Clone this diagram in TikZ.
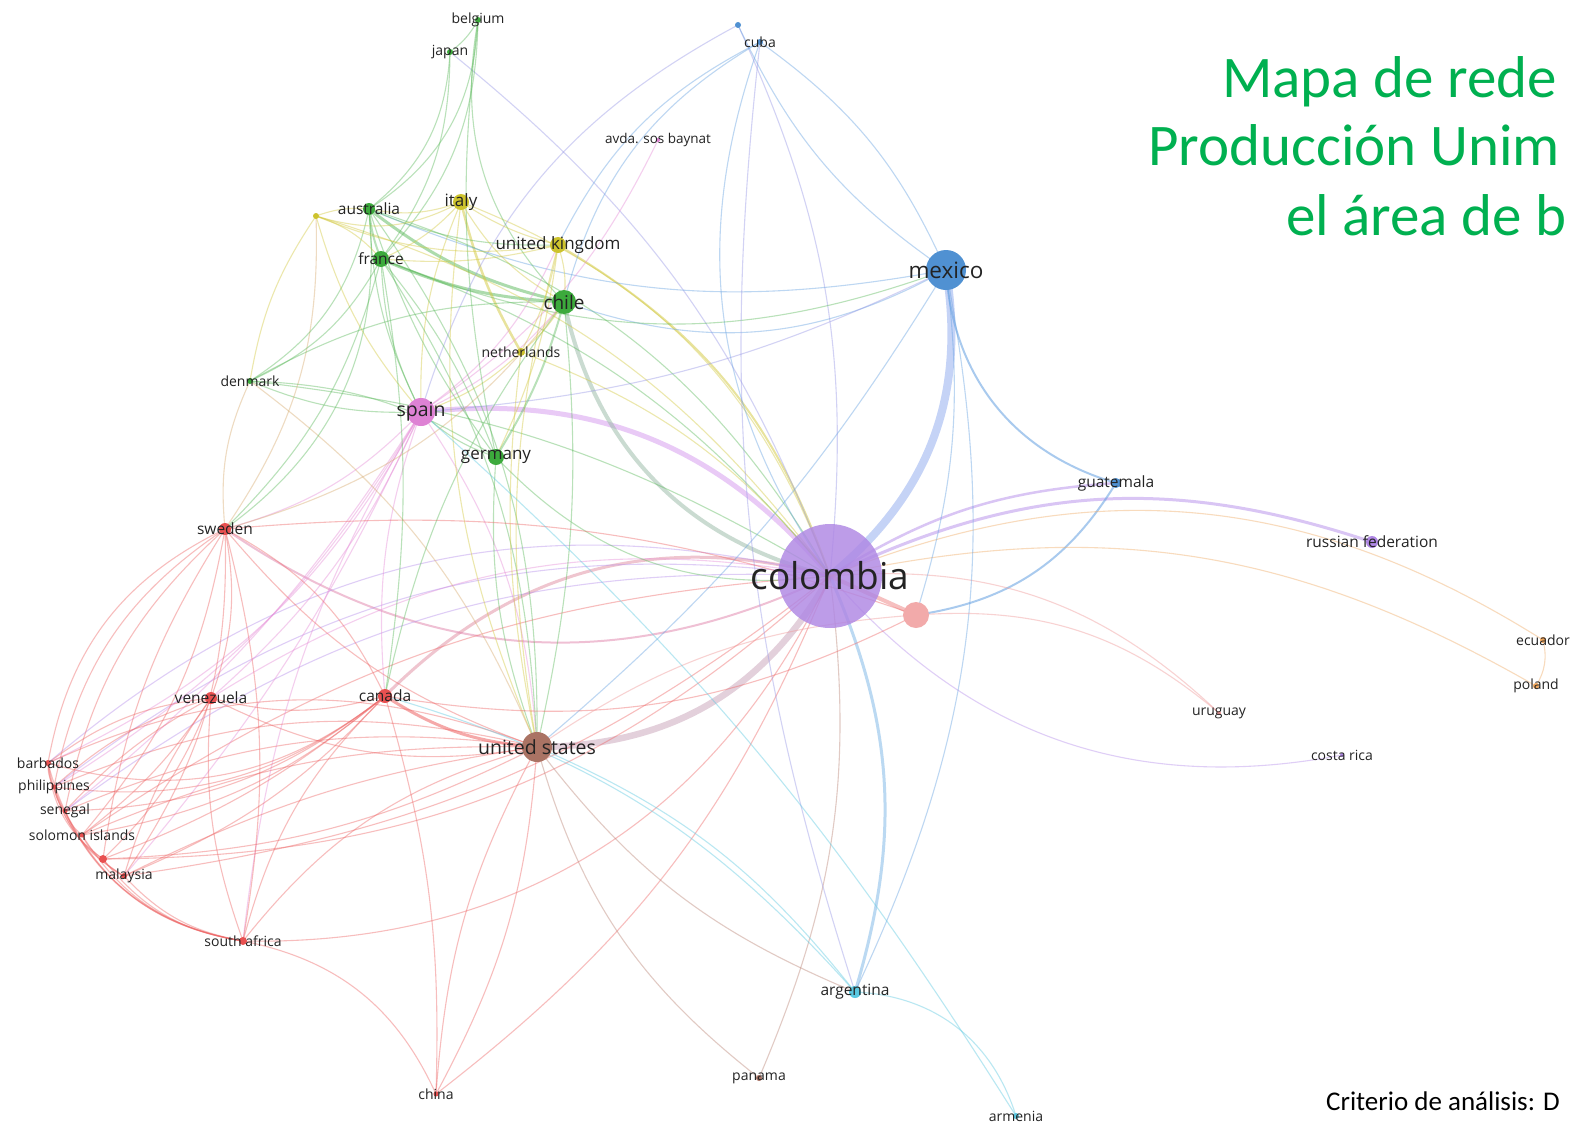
\documentclass[tikz,border=0pt]{standalone}
\usepackage{fontspec}
\setmainfont{Open Sans}
\newfontfamily\carlito{Carlito}
\pgfdeclarelayer{bg}
\pgfdeclarelayer{edges}
\pgfsetlayers{bg,edges,main}
\definecolor{cRed}{RGB}{232,80,80}
\definecolor{cGreen}{RGB}{60,170,60}
\definecolor{cBlue}{RGB}{80,145,210}
\definecolor{cYellow}{RGB}{205,195,45}
\definecolor{cPurple}{RGB}{175,135,228}
\definecolor{cCyan}{RGB}{90,200,225}
\definecolor{cOrange}{RGB}{240,165,90}
\definecolor{cBrown}{RGB}{170,115,100}
\definecolor{cPink}{RGB}{222,130,212}
\definecolor{cSalmon}{RGB}{240,155,155}
\definecolor{eRed}{RGB}{238,100,100}
\definecolor{eGreen}{RGB}{90,185,90}
\definecolor{eBlue}{RGB}{100,160,225}
\definecolor{eYellow}{RGB}{210,200,60}
\definecolor{ePurple}{RGB}{180,140,235}
\definecolor{eLav}{RGB}{150,150,230}
\definecolor{ePink}{RGB}{230,140,215}
\definecolor{eBrown}{RGB}{185,130,115}
\definecolor{eTan}{RGB}{215,170,110}
\definecolor{eCyan}{RGB}{90,200,225}
\definecolor{eOrange}{RGB}{240,170,100}
\definecolor{eSalmon}{RGB}{240,150,150}
\definecolor{titlegreen}{RGB}{0,176,80}
\definecolor{lbl}{RGB}{35,35,35}
\tikzset{
  ed/.style={opacity=0.42, line cap=round},
  nd/.style={circle, inner sep=0pt, draw=none},
  lb/.style={inner sep=0pt, text=lbl, font=\fontsize{14}{16}\selectfont},
}
\begin{document}
\begin{tikzpicture}[x=1pt,y=-1pt]
\begin{pgfonlayer}{bg}
\fill[white] (0,0) rectangle (1570,1124);
\end{pgfonlayer}
\useasboundingbox (0,0) rectangle (1570,1124);

% ---------------- nodes (circles)
\node[nd, fill=cSalmon!85, minimum size=26] (SA) at (916,615) {};
\node[nd, fill=cBlue, minimum size=40] (MX) at (946,270) {};
\node[nd, fill=cGreen, minimum size=24] (CL) at (564,302) {};
\node[nd, fill=cPink, minimum size=28] (ES) at (421,412) {};
\node[nd, fill=cBrown, minimum size=30] (US) at (537,747) {};
\node[nd, fill=cRed, minimum size=14] (CA) at (385,696) {};
\node[nd, fill=cRed, minimum size=12] (VE) at (211,698) {};
\node[nd, fill=cRed, minimum size=12] (SE) at (225,529) {};
\node[nd, fill=cGreen, minimum size=16] (DE) at (496,457) {};
\node[nd, fill=cGreen, minimum size=16] (FR) at (381,259) {};
\node[nd, fill=cGreen, minimum size=12] (AU) at (369,209) {};
\node[nd, fill=cYellow, minimum size=16] (IT) at (461,202) {};
\node[nd, fill=cYellow, minimum size=16] (UK) at (558,245) {};
\node[nd, fill=cYellow, minimum size=8] (NL) at (521,352) {};
\node[nd, fill=cGreen, minimum size=6] (DK) at (250,381) {};
\node[nd, fill=cGreen, minimum size=6] (JP) at (450,52) {};
\node[nd, fill=cGreen, minimum size=6] (BE) at (478,20) {};
\node[nd, fill=cYellow, minimum size=6] (YU) at (316,216) {};
\node[nd, fill=cBlue, minimum size=6] (CU) at (760,42) {};
\node[nd, fill=cBlue, minimum size=6] (BU) at (738,25) {};
\node[nd, fill=cPink, minimum size=4] (AV) at (658,140) {};
\node[nd, fill=cBlue, minimum size=10] (GT) at (1116,483) {};
\node[nd, fill=cPurple, minimum size=12] (RU) at (1372,542) {};
\node[nd, fill=cOrange, minimum size=6] (EC) at (1543,640) {};
\node[nd, fill=cOrange, minimum size=6] (PL) at (1536,686) {};
\node[nd, fill=cSalmon, minimum size=4] (UY) at (1219,713) {};
\node[nd, fill=cPurple, minimum size=4] (CR) at (1342,755) {};
\node[nd, fill=cCyan, minimum size=12] (AR) at (855,992) {};
\node[nd, fill=cCyan, minimum size=6] (AM) at (1016,1116) {};
\node[nd, fill=cBrown, minimum size=6] (PA) at (759,1078) {};
\node[nd, fill=cRed, minimum size=5] (CN) at (436,1094) {};
\node[nd, fill=cRed, minimum size=8] (ZA) at (243,941) {};
\node[nd, fill=cRed, minimum size=6] (MY) at (124,876) {};
\node[nd, fill=cRed, minimum size=8] (RD) at (103,859) {};
\node[nd, fill=cRed, minimum size=5] (SI) at (82,835) {};
\node[nd, fill=cRed, minimum size=5] (SN) at (65,811) {};
\node[nd, fill=cRed, minimum size=5] (PH) at (54,787) {};
\node[nd, fill=cRed, minimum size=6] (BB) at (48,763) {};
\node[nd, fill=cPurple, fill opacity=0.82, minimum size=104] (CO) at (830,576) {};

% ---------------- edges
\begin{pgfonlayer}{edges}
% thick edges
\draw[ed, opacity=.55, line width=8, draw={rgb,255:red,150;green,175;blue,240}] (CO.center) to[bend right=30] (MX.center);
\draw[ed, opacity=.55, line width=5, draw={rgb,255:red,215;green,160;blue,240}] (CO.center) to[bend right=28] (ES.center);
\draw[ed, opacity=.55, line width=6.5, draw={rgb,255:red,205;green,170;blue,190}] (CO.center) to[bend left=30] (US.center);
\draw[ed, opacity=.5, line width=4, draw={rgb,255:red,150;green,185;blue,165}] (CO.center) to[bend left=32] (CL.center);
\draw[ed, opacity=.5, line width=2.5, draw=ePurple] (CO.center) to[bend left=14] (GT.center);
\draw[ed, opacity=.5, line width=3, draw=ePurple] (CO.center) to[bend left=22] (RU.center);
\draw[ed, opacity=.5, line width=3, draw={rgb,255:red,120;green,180;blue,230}] (CO.center) to[bend left=20] (AR.center);
\draw[ed, opacity=.6, line width=4, draw=eSalmon] (CO.center) to (SA.center);
\draw[ed, opacity=.5, line width=3, draw={rgb,255:red,225;green,140;blue,160}] (CA.center) to[bend left=30] (CO.center);
\draw[ed, opacity=.55, line width=3, draw=eRed] (CA.center) to[bend right=14] (US.center);
\draw[ed, opacity=.55, line width=2, draw=eBlue] (MX.center) to[bend right=35] (GT.center);
\draw[ed, opacity=.55, line width=2, draw=eBlue] (GT.center) to[bend left=25] (SA.center);
\draw[ed, opacity=.5, line width=2, draw={rgb,255:red,225;green,130;blue,170}] (CO.center) to[bend left=30] (SE.center);
\draw[ed, opacity=.5, line width=2, draw=eYellow] (CO.center) to[bend right=20] (UK.center);
\draw[ed, opacity=.5, line width=3, draw=eGreen] (AU.center) to[bend right=12] (CL.center);
\draw[ed, opacity=.5, line width=3, draw=eGreen] (FR.center) to[bend right=10] (CL.center);
\draw[ed, opacity=.5, line width=2.5, draw=eYellow] (IT.center) to[bend right=8] (NL.center);

% colombia thin edges
\foreach \b/\t/\c [evaluate=\t as \tb using 1.5*\t] in {VE/-14/ePink, ZA/22/eRed, BB/-18/ePurple, PH/-15/ePurple, SN/-13/ePurple,
  SI/-10/eRed, MY/10/eRed, RD/14/eRed, DE/18/eGreen, FR/-10/eGreen, AU/-14/eGreen, IT/-16/eYellow,
  NL/-10/eYellow, DK/-8/eGreen, JP/-10/eLav, CU/18/eBlue, BU/-10/eLav, UY/16/eSalmon, CR/-20/ePurple,
  PA/10/eBrown, CN/10/eRed, EC/18/eOrange, PL/14/eOrange, YU/-12/eYellow}
  \draw[ed, line width=1.1, draw=\c] (CO.center) to[bend left=\tb] (\b.center);

% mexico / cuba
\foreach \a/\b/\t/\c [evaluate=\t as \tb using 1.5*\t] in {MX/CU/-10/eBlue, MX/BU/10/eBlue, MX/CL/16/eBlue, MX/FR/14/eGreen, MX/AU/11/eBlue,
  MX/ES/7/eLav, MX/US/6/eBlue, MX/AR/12/eBlue, MX/SA/8/eBlue, CU/CL/-15/eBlue, BU/ES/-15/eLav,
  CU/UK/-12/eBlue, CU/AR/-8/eLav}
  \draw[ed, line width=1.1, draw=\c] (\a.center) to[bend left=\tb] (\b.center);

% spain
\foreach \b/\t/\c [evaluate=\t as \tb using 1.5*\t] in {AV/-10/ePink, SE/10/ePink, VE/8/ePink, CA/-8/ePink, US/10/ePink, BB/12/ePink,
  PH/9/ePink, SN/6/ePink, MY/5/ePink, ZA/-8/ePink, UK/-10/ePink, CL/-8/ePink, FR/8/eGreen,
  DE/-8/eGreen, AU/8/eGreen, DK/8/eGreen, YU/8/eYellow, NL/-8/eYellow, IT/8/eYellow}
  \draw[ed, line width=1.1, draw=\c] (ES.center) to[bend left=\tb] (\b.center);

% united states
\foreach \b/\t/\c [evaluate=\t as \tb using 1.5*\t] in {VE/12/eRed, SE/10/eRed, ZA/-12/eRed, CN/8/eRed, PA/-12/eBrown, AR/-10/eBrown,
  BB/-15/eRed, PH/-12/eRed, SN/-10/eRed, SI/-8/eRed, MY/-6/eRed, RD/8/eRed, CL/-6/eGreen,
  DE/8/eGreen, FR/-10/eGreen, AU/-12/eGreen, IT/10/eYellow, UK/8/eYellow, NL/6/eYellow,
  DK/-10/eTan, SA/10/eSalmon}
  \draw[ed, line width=1.1, draw=\c] (US.center) to[bend left=\tb] (\b.center);

% red cluster
\foreach \a/\b/\t [evaluate=\t as \tb using 1.5*\t] in {CA/VE/10, CA/SE/-12, CA/ZA/-10, CA/BB/18, CA/PH/15, CA/SN/12, CA/SI/10,
  CA/MY/8, CA/RD/6, CA/CN/6, SE/VE/10, SE/ZA/8, SE/BB/-18, SE/PH/-15, SE/SN/-12, SE/SI/10, SE/MY/12,
  SE/RD/-8, VE/BB/-10, VE/PH/-8, VE/SN/-6, VE/SI/6, VE/MY/-6, VE/RD/8, VE/ZA/-8, ZA/BB/22,
  ZA/PH/20, ZA/SN/18, ZA/SI/16, ZA/MY/12, ZA/RD/14, ZA/CN/18, BB/PH/-10, PH/SN/-10,
  SN/SI/-10, SI/RD/-10, RD/MY/-10, BB/RD/-16, BB/MY/-16, PH/MY/-14, SA/CA/12, SA/SE/-8}
  \draw[ed, line width=1.1, draw=eRed] (\a.center) to[bend left=\tb] (\b.center);

% green / yellow cluster
\foreach \a/\b/\t/\c [evaluate=\t as \tb using 1.5*\t] in {CA/CL/8/eGreen, CA/FR/-6/eGreen, SE/DK/10/eTan, SE/YU/-12/eTan,
  SE/FR/-10/eGreen, SE/AU/-20/eGreen, SE/CL/-12/eTan, BE/JP/8/eGreen, BE/AU/18/eGreen,
  BE/FR/14/eGreen, BE/CL/-18/eGreen, BE/DE/-6/eGreen, JP/AU/16/eGreen, JP/FR/12/eGreen,
  AU/DE/-6/eGreen, AU/DK/15/eGreen, AU/IT/-10/eYellow, AU/UK/-8/eGreen,
  FR/DE/6/eGreen, FR/DK/12/eGreen, FR/UK/-6/eYellow, FR/IT/-8/eYellow,
  CL/UK/-8/eYellow, CL/IT/10/eYellow, CL/NL/6/eYellow, CL/DK/-10/eGreen, DE/UK/-6/eYellow,
  DE/DK/-10/eGreen, DK/YU/8/eYellow, IT/UK/-6/eYellow, UK/NL/6/eYellow, YU/IT/-15/eYellow,
  YU/UK/-10/eYellow, YU/AU/8/eYellow, YU/FR/10/eYellow}
  \draw[ed, line width=1.1, draw=\c] (\a.center) to[bend left=\tb] (\b.center);
\draw[ed, line width=2, draw=eGreen] (CL.center) to[bend left=8] (DE.center);
\draw[ed, line width=2, draw=eGreen] (AU.center) to[bend right=8] (FR.center);

% others
\draw[ed, line width=1.1, draw=eCyan] (AR.center) to[bend left=35] (AM.center);
\draw[ed, line width=1.1, draw=eCyan] (AM.center) to[bend right=8] (ES.center);
\draw[ed, line width=1.1, draw=eCyan] (AR.center) to[bend right=14] (US.center);
\draw[ed, line width=1.1, draw=eCyan] (AR.center) to[bend right=16] (CA.center);
\draw[ed, line width=1.1, draw=eSalmon] (SA.center) to[bend left=22] (UY.center);
\draw[ed, line width=1.1, draw=eOrange] (EC.center) to[bend left=22] (PL.center);
\draw[ed, line width=1.1, draw=eRed] (CN.center) to[bend left=12] (US.center);
\end{pgfonlayer}

% ---------------- labels
\node[lb, font=\fontsize{37}{40}\selectfont] (COl) at (CO) {colombia};
\node[lb, font=\fontsize{22.5}{24}\selectfont] (MXl) at (MX) {mexico};
\node[lb, font=\fontsize{19}{21}\selectfont] (CLl) at (CL) {chile};
\node[lb, font=\fontsize{19.5}{21}\selectfont] (ESl) at (ES) {spain};
\node[lb, font=\fontsize{19.5}{21}\selectfont] (USl) at (US) {united states};
\node[lb, font=\fontsize{15.5}{17}\selectfont] (CAl) at (CA) {canada};
\node[lb, font=\fontsize{15.5}{17}\selectfont] (VEl) at (VE) {venezuela};
\node[lb, font=\fontsize{15.5}{17}\selectfont] (SEl) at (SE) {sweden};
\node[lb, font=\fontsize{17}{19}\selectfont] (DEl) at (DE) {germany};
\node[lb, font=\fontsize{15.5}{17}\selectfont] (FRl) at (FR) {france};
\node[lb, font=\fontsize{15.5}{17}\selectfont] (AUl) at (AU) {australia};
\node[lb, font=\fontsize{17}{19}\selectfont] (ITl) at (IT) {italy};
\node[lb, font=\fontsize{17}{19}\selectfont] (UKl) at (UK) {united kingdom};
\node[lb] (NLl) at (NL) {netherlands};
\node[lb] (DKl) at (DK) {denmark};
\node[lb] (JPl) at (JP) {japan};
\node[lb] (BEl) at (BE) {belgium};
\node[lb] (CUl) at (CU) {cuba};
\node[lb, font=\fontsize{13.5}{15}\selectfont] (AVl) at (AV) {avda. sos baynat};
\node[lb, font=\fontsize{15.5}{17}\selectfont] (GTl) at (GT) {guatemala};
\node[lb, font=\fontsize{15.5}{17}\selectfont] (RUl) at (RU) {russian federation};
\node[lb] (ECl) at (EC) {ecuador};
\node[lb] (PLl) at (PL) {poland};
\node[lb] (UYl) at (UY) {uruguay};
\node[lb] (CRl) at (CR) {costa rica};
\node[lb, font=\fontsize{15.5}{17}\selectfont] (ARl) at (AR) {argentina};
\node[lb] (AMl) at (AM) {armenia};
\node[lb] (PAl) at (PA) {panama};
\node[lb] (CNl) at (CN) {china};
\node[lb] (ZAl) at (ZA) {south africa};
\node[lb] (MYl) at (MY) {malaysia};
\node[lb] (SIl) at (82,835) {solomon islands};
\node[lb] (SNl) at (SN) {senegal};
\node[lb] (PHl) at (PH) {philippines};
\node[lb] (BBl) at (BB) {barbados};

% ---------------- title and footer
\begin{scope}[every node/.style={anchor=base west, inner sep=0pt, text=titlegreen, font=\carlito\fontsize{59}{67}\selectfont}]
\node (t1) at (1222,97) {Mapa de rede};
\node (t2) at (1148,165) {Producción Unim};
\node (t3) at (1286,235) {el área de b};
\end{scope}
\node[anchor=base west, inner sep=0pt, text=black, font=\carlito\fontsize{27}{30}\selectfont] (crit) at (1326,1110) {Criterio de análisis: D};
\end{tikzpicture}
\end{document}
